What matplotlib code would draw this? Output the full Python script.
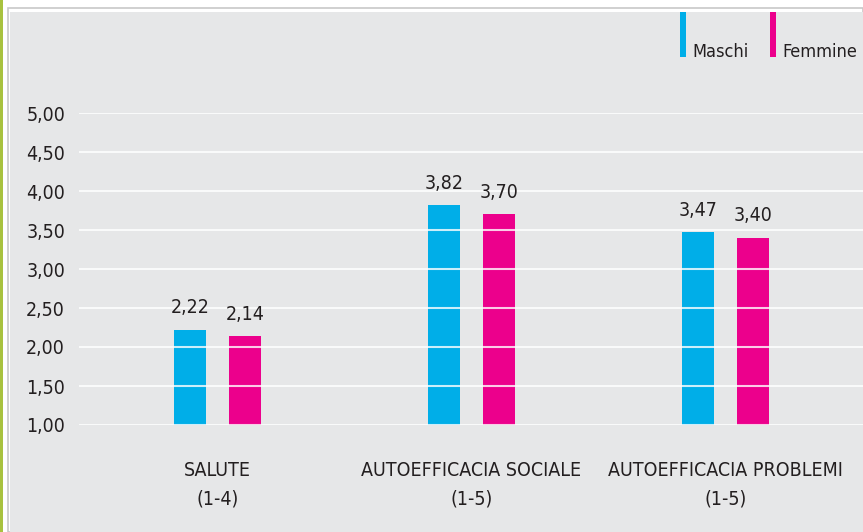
import matplotlib.pyplot as plt
from matplotlib.patches import Rectangle
import numpy as np

# Dati
categorie = ['SALUTE\n(1-4)', 'AUTOEFFICACIA SOCIALE\n(1-5)', 'AUTOEFFICACIA PROBLEMI\n(1-5)']
maschi = [2.22, 3.82, 3.47]
femmine = [2.14, 3.70, 3.40]
serie = ['Maschi', 'Femmine']
yticks = [1.0, 1.5, 2.0, 2.5, 3.0, 3.5, 4.0, 4.5, 5.0]

CIANO = '#00aee8'
MAGENTA = '#ec008c'
SFONDO = '#e6e7e8'
TESTO = '#231f20'

plt.rcParams['font.family'] = ['Liberation Sans Narrow', 'DejaVu Sans']
plt.rcParams['font.stretch'] = 'condensed'

W, H = 863, 532
fig = plt.figure(figsize=(W / 100, H / 100), dpi=100)
fig.patch.set_facecolor('white')

# cornice: striscia verde a sinistra, bordo grigio, sfondo grigio chiaro
fig.patches.append(Rectangle((0, 0), 2.5 / W, 1, transform=fig.transFigure,
                             facecolor='#a8c23f', edgecolor='none', zorder=-10))
fig.patches.append(Rectangle((8 / W, 0), 1 - 8 / W, 1 - 8 / H, transform=fig.transFigure,
                             facecolor='white', edgecolor='#c8c8c8', lw=1.2, zorder=-10))
fig.patches.append(Rectangle((10 / W, 0), 1 - 10 / W, 1 - 12 / H, transform=fig.transFigure,
                             facecolor=SFONDO, edgecolor='none', zorder=-9))

ax = fig.add_axes([79 / W, (H - 425) / H, (W - 79) / W, (425 - 113) / H])
ax.set_facecolor('none')

x = np.arange(len(categorie))
w = 0.126
off = 0.108
ax.bar(x - off, np.array(maschi) - 1, w, bottom=1, color=CIANO, zorder=2)
ax.bar(x + off, np.array(femmine) - 1, w, bottom=1, color=MAGENTA, zorder=2)

for xi, v in zip(x - off, maschi):
    ax.annotate(f'{v:.2f}'.replace('.', ','), (xi, v), xytext=(0, 9), textcoords='offset points',
                ha='center', va='bottom', fontsize=14, color=TESTO, zorder=4)
for xi, v in zip(x + off, femmine):
    ax.annotate(f'{v:.2f}'.replace('.', ','), (xi, v), xytext=(0, 9), textcoords='offset points',
                ha='center', va='bottom', fontsize=14, color=TESTO, zorder=4)

# griglia bianca sopra le barre
for y in yticks:
    ax.axhline(y, color='white', lw=1.5, alpha=0.8, zorder=3)

ax.set_xlim(-0.545, 2.541)
ax.set_ylim(1, 5)
ax.set_yticks(yticks)
ax.set_yticklabels([f'{t:.2f}'.replace('.', ',') for t in yticks], fontsize=14, color=TESTO)
ax.tick_params(axis='y', length=0, pad=10)
ax.set_xticks(x)
ax.set_xticklabels(categorie, fontsize=14, color=TESTO, linespacing=1.6)
ax.tick_params(axis='x', length=0, pad=26)
for s in ax.spines.values():
    s.set_visible(False)

# legenda
leg_x = [680, 770]
for lx, nome, col in zip(leg_x, serie, [CIANO, MAGENTA]):
    fig.patches.append(Rectangle((lx / W, (H - 57) / H), 6 / W, 45 / H, transform=fig.transFigure,
                                 facecolor=col, edgecolor='none'))
    fig.text((lx + 12) / W, (H - 57) / H, nome, fontsize=13, color=TESTO, ha='left', va='baseline')

fig.savefig('out.png', dpi=100, facecolor=fig.get_facecolor())
